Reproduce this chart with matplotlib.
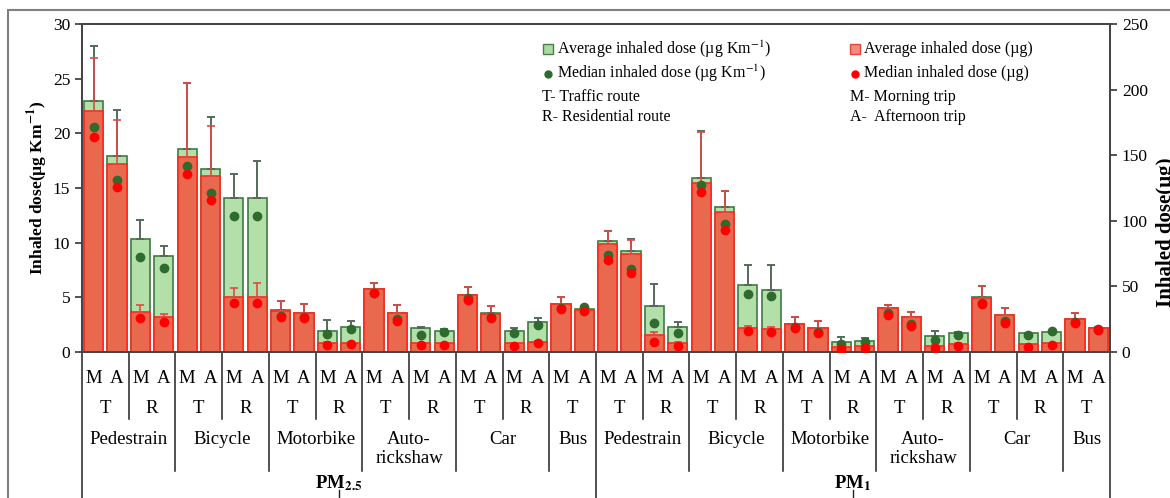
import numpy as np
import matplotlib
matplotlib.use("Agg")
from matplotlib import pyplot as plt
from matplotlib.patches import Rectangle
import matplotlib.transforms as mtransforms

plt.rcParams['font.family'] = ['Liberation Serif', 'DejaVu Serif']
plt.rcParams['mathtext.fontset'] = 'stix'

# categories
pollutants = ["PM$_{\\mathbf{2.5}}$", "PM$_{\\mathbf{1}}$"]
vehicles = ["Pedestrain", "Bicycle", "Motorbike", "Auto-\nrickshaw", "Car", "Bus"]
vehicle_routes = [["T", "R"], ["T", "R"], ["T", "R"], ["T", "R"], ["T", "R"], ["T"]]
trips = ["M", "A"]

# average / median inhaled dose per km (left axis, ug Km-1), PM2.5 then PM1
avg_km = [23.0, 17.9, 10.3, 8.8, 18.55, 16.75, 14.05, 14.05, 3.8, 3.6, 1.95,
          2.32, 5.8, 3.6, 2.17, 1.92, 5.25, 3.55, 1.95, 2.77, 4.4, 3.9,
          10.18, 9.27, 4.2, 2.32, 15.9, 13.24, 6.1, 5.67, 2.6, 2.2, 0.89,
          1.0, 4.05, 3.2, 1.49, 1.71, 5.0, 3.4, 1.71, 1.8, 3.0, 2.2]
med_km = [20.55, 15.75, 8.65, 7.65, 17.0, 14.5, 12.45, 12.4, 3.3, 3.2, 1.65,
          2.1, 5.4, 3.0, 1.56, 1.8, 4.9, 3.2, 1.77, 2.47, 4.0, 4.15,
          8.87, 7.56, 2.68, 1.71, 15.28, 11.7, 5.3, 5.12, 2.3, 1.8, 0.73,
          0.94, 3.6, 2.6, 1.1, 1.56, 4.5, 2.8, 1.56, 1.88, 2.75, 2.1]
sd_km = [5.0, 4.2, 1.75, 0.9, 6.05, 4.75, 2.2, 3.45, 0.9, 0.75, 1.0,
         0.53, 0.55, 0.7, 0.13, 0.18, 0.65, 0.65, 0.27, 0.37, 0.6, 0.3,
         0.92, 1.03, 2.0, 0.45, 4.35, 1.49, 1.9, 2.33, 0.6, 0.67, 0.51,
         0.25, 0.25, 0.49, 0.46, 0.14, 1.04, 0.6, 0.04, 0.05, 0.54, 0.05]

# average / median inhaled dose (right axis, ug)
avg_ug = [184, 143, 30.7, 26.4, 149, 134, 42.2, 42.2, 31.2, 29.5, 6.6,
          7.1, 48, 29.5, 6.6, 6.6, 43.4, 29, 6.6, 7.9, 36.3, 32,
          82.3, 74.7, 13, 7.1, 128.5, 107, 18, 17.3, 21.3, 18, 4,
          4.6, 33.3, 26.4, 4.8, 6.1, 41.4, 28.2, 5.9, 6.6, 24.9, 18]
med_ug = [164, 126, 25.7, 22.6, 136, 116, 37.1, 37, 26.9, 26.2, 5.3,
          6.1, 44.7, 23.9, 5.3, 5.3, 39.6, 25.7, 4.8, 7.1, 32.8, 31.5,
          70.1, 60, 7.9, 4.6, 122, 93, 16, 15, 18.5, 14.2, 2,
          2.8, 28.2, 20, 3.3, 4.6, 36.3, 21.9, 4, 5.3, 22.4, 16.8]
sd_ug = [40, 34, 5.1, 2.6, 56, 38.5, 6.3, 10.1, 7.8, 6.8, 0.9,
         0.9, 4.8, 6.3, 0.4, 0.4, 5.9, 6, 0.6, 0.6, 5.4, 1.0,
         10, 11, 2, 0.9, 39, 16, 2, 1.7, 5.6, 5.9, 1,
         0.4, 2.5, 4.3, 0.7, 0.4, 8.9, 5.1, 0.3, 0.4, 4.6, 0.5]

W, H = 1170, 498
def fx(px):
    return px / W
def fy(py):
    return 1 - py / H

fig = plt.figure(figsize=(11.7, 4.98), dpi=100)
ax = fig.add_axes([fx(82), fy(352), fx(1110) - fx(82), fy(24) - fy(352)])
ax2 = ax.twinx()

x = np.arange(len(avg_km))
w = 0.82
zeros = np.zeros(len(x))

ax.bar(x, avg_km, w, color='#b2e0a8', edgecolor='#3f7a45', lw=1.2, zorder=2)
ax.errorbar(x, avg_km, yerr=[zeros, sd_km], fmt='none', ecolor='#566a5a',
            elinewidth=1.4, capsize=3, capthick=1.4, zorder=3)

ax2.bar(x, avg_ug, w, color='#e8694d', edgecolor='#ff2a1c', lw=1.2, zorder=2)
ax2.errorbar(x, avg_ug, yerr=[zeros, sd_ug], fmt='none', ecolor='#de4a44',
             elinewidth=1.2, capsize=3, capthick=1.2, zorder=3)
ax2.plot(x, med_km, 'o', color='#2e6b2e', ms=6, transform=ax.transData, zorder=4)
ax2.plot(x, med_ug, 'o', color='#ff0000', ms=6, zorder=5)

ax.set_xlim(-0.5, len(x) - 0.5)
ax.set_ylim(0, 30)
ax2.set_ylim(0, 250)
ax.set_yticks(range(0, 31, 5))
ax2.set_yticks(range(0, 251, 50))
ax.set_xticks([])
for a in (ax, ax2):
    a.tick_params(axis='y', direction='out', length=5, width=1.2,
                  labelsize=12.5, colors='#333333', labelcolor='black')
    for s in a.spines.values():
        s.set_color('#444444')
        s.set_linewidth(1.3)

# multi level category axis
trans = mtransforms.blended_transform_factory(ax.transData, ax.transAxes)
def yfrac(py):
    return (352 - py) / 328.0

def vline(xv, py_end):
    ax.plot([xv, xv], [0, yfrac(py_end)], color='#222222', lw=1.1,
            transform=trans, clip_on=False)

i = 0
for p, pm in enumerate(pollutants):
    pm_start = i
    for v, veh in enumerate(vehicles):
        v_start = i
        for r, route in enumerate(vehicle_routes[v]):
            r_start = i
            for t in trips:
                ax.text(i, yfrac(378), t, transform=trans, ha='center',
                        va='center', fontsize=13.5)
                i += 1
            ax.text((r_start + i - 1) / 2, yfrac(408), route, transform=trans,
                    ha='center', va='center', fontsize=13.5)
            if r < len(vehicle_routes[v]) - 1:
                vline(i - 0.5, 419)
        ax.text((v_start + i - 1) / 2, yfrac(431), veh, transform=trans,
                ha='center', va='top', fontsize=13.5, linespacing=1.15)
        if v < len(vehicles) - 1:
            vline(i - 0.5, 471)
    ax.text((pm_start + i - 1) / 2, yfrac(483), pm, transform=trans,
            ha='center', va='center', fontsize=13.5, fontweight='bold')
    ax.plot([(pm_start + i - 1) / 2] * 2, [yfrac(490), yfrac(500)],
            color='#222222', lw=1.0, transform=trans, clip_on=False)
    vline(pm_start - 0.5, 510)
vline(i - 0.5, 510)

# axis titles
fig.text(fx(38), fy(188), "Inhaled dose(\u00b5g Km$^{\\mathbf{-1}}$)", rotation=90,
         ha='center', va='center', fontsize=12.5, fontweight='bold')
fig.text(fx(1156), fy(232), "Inhaled dose(\u00b5g)", rotation=90,
         ha='left', va='center', fontsize=15, fontweight='bold')

# legend drawn by hand
def marker(px, py, m, fc, ec, ms):
    fig.add_artist(plt.Line2D([fx(px)], [fy(py)], marker=m, ms=ms,
                              markerfacecolor=fc, markeredgecolor=ec,
                              transform=fig.transFigure))

lfs = 11.5
marker(548, 49, 's', '#a9dc9f', '#4c7d4c', 7)
fig.text(fx(557), fy(49), "Average inhaled dose (\u00b5g Km$^{-1}$)", va='center', fontsize=lfs)
marker(548, 74, 'o', '#2e6b2e', '#2e6b2e', 5)
fig.text(fx(557), fy(73), "Median inhaled dose (\u00b5g Km$^{-1}$)", va='center', fontsize=lfs)
fig.text(fx(542), fy(97), "T- Traffic route", va='center', fontsize=lfs)
fig.text(fx(542), fy(117), "R- Residential route", va='center', fontsize=lfs)

marker(855, 49, 's', '#f48a84', '#e8453c', 7)
fig.text(fx(864), fy(49), "Average inhaled dose (\u00b5g)", va='center', fontsize=lfs)
marker(855, 74, 'o', '#ff0000', '#ff0000', 5)
fig.text(fx(864), fy(73), "Median inhaled dose (\u00b5g)", va='center', fontsize=lfs)
fig.text(fx(850), fy(97), "M- Morning trip", va='center', fontsize=lfs)
fig.text(fx(850), fy(117), "A-  Afternoon trip", va='center', fontsize=lfs)

# outer frame of the picture
fig.add_artist(Rectangle((fx(8), -0.1), 1.2, fy(10) + 0.1, fill=False,
                         ec='#808080', lw=1.5, transform=fig.transFigure))

fig.savefig("out.png", dpi=100)
